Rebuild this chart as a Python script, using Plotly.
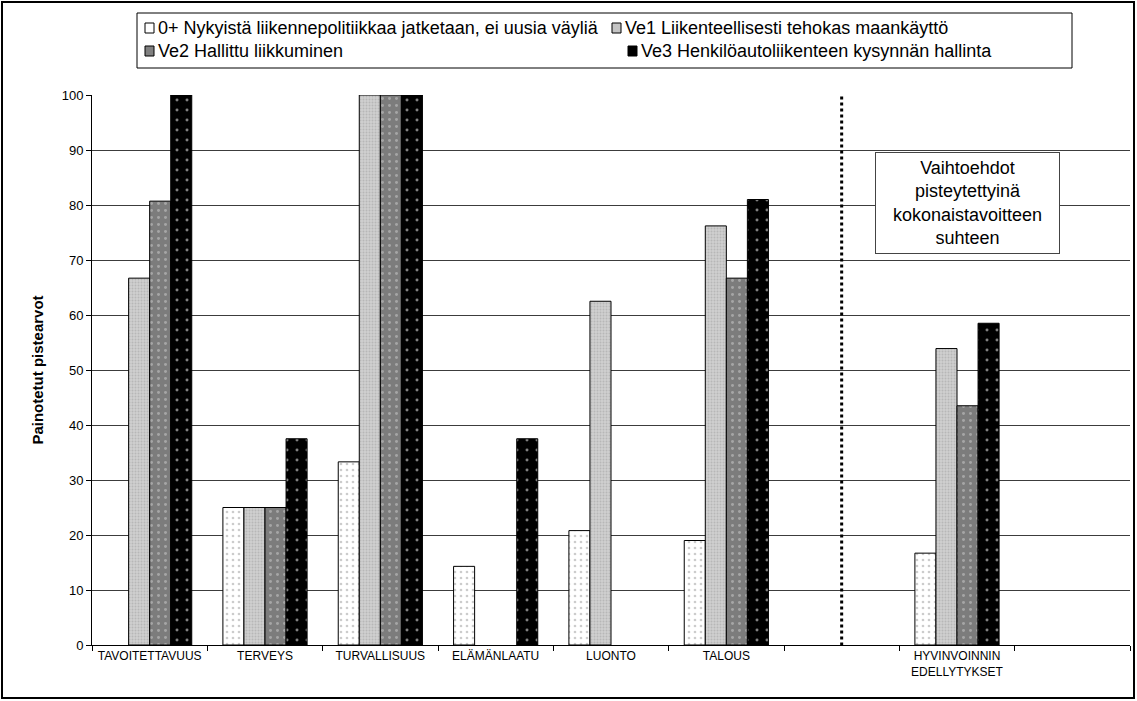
import plotly.graph_objects as go

# Categories (two blank slots: a spacer before the summary group and one after it)
categories = ["TAVOITETTAVUUS", "TERVEYS", "TURVALLISUUS", "ELÄMÄNLAATU",
              "LUONTO", "TALOUS", " ", "HYVINVOINNIN<br>EDELLYTYKSET", "  "]
separator_category = " "

series_names = [
    "0+ Nykyistä liikennepolitiikkaa jatketaan, ei uusia väyliä",
    "Ve1 Liikenteellisesti tehokas maankäyttö",
    "Ve2 Hallittu liikkuminen",
    "Ve3 Henkilöautoliikenteen kysynnän hallinta",
]

values_0 = [None, 25.0, 33.3, 14.3, 20.8, 19.0, None, 16.7, None]
values_ve1 = [66.7, 25.0, 100.0, None, 62.5, 76.2, None, 53.9, None]
values_ve2 = [80.7, 25.0, 100.0, None, None, 66.7, None, 43.5, None]
values_ve3 = [100.0, 37.5, 100.0, 37.5, None, 81.0, None, 58.5, None]

y_ticks = [0, 10, 20, 30, 40, 50, 60, 70, 80, 90, 100]
y_title = "Painotetut pistearvot"
note_text = "Vaihtoehdot<br>pisteytettyinä<br>kokonaistavoitteen<br>suhteen"

FONT = "Arial, Liberation Sans, sans-serif"
W, H = 1137, 701
ML, MR, MT, MB = 92, 7, 95, 56
PW, PH = W - ML - MR, H - MT - MB


def px(x):
    return (x - ML) / PW


def py(y):
    return (H - MB - y) / PH


# fill styles: (swatch colour, pattern)
styles = [
    ("#ffffff", dict(shape=".", bgcolor="#ffffff", fgcolor="#9a9a9a", size=6, solidity=0.16)),
    ("#c4c4c4", dict(shape=".", bgcolor="#cfcfcf", fgcolor="#a0a0a0", size=3, solidity=0.35)),
    ("#808080", dict(shape=".", bgcolor="#7c7c7c", fgcolor="#cfcfcf", size=7, solidity=0.14)),
    ("#000000", dict(shape=".", bgcolor="#000000", fgcolor="#ffffff", size=10, solidity=0.07)),
]

fig = go.Figure()
for name, vals, (col, pat) in zip(series_names,
                                  [values_0, values_ve1, values_ve2, values_ve3],
                                  styles):
    fig.add_trace(go.Bar(
        x=categories, y=vals, name=name, showlegend=False,
        marker=dict(color=col, pattern=pat, line=dict(color="#000000", width=1)),
    ))

fig.update_layout(
    width=W, height=H,
    margin=dict(l=ML, r=MR, t=MT, b=MB),
    paper_bgcolor="white", plot_bgcolor="white",
    barmode="group", bargap=0.27, bargroupgap=0,
    font=dict(family=FONT, color="#000000"),
    showlegend=False,
)

fig.update_xaxes(
    type="category", categoryorder="array", categoryarray=categories,
    range=[-0.5, len(categories) - 0.5],
    showline=True, linecolor="#000000", linewidth=1,
    ticks="outside", tickson="boundaries", ticklen=5, tickcolor="#000000",
    tickfont=dict(size=12, family=FONT), showgrid=False,
)
fig.update_yaxes(
    range=[0, 100], tickvals=y_ticks, showgrid=True, gridcolor="#3c3c3c", gridwidth=1,
    showline=True, linecolor="#000000", linewidth=1,
    ticks="outside", ticklen=5, tickcolor="#000000",
    tickfont=dict(size=13, family=FONT), zeroline=False,
    title=dict(text=f"<b>{y_title}</b>", font=dict(size=15, family=FONT), standoff=14),
)

shapes = []
# dotted separator between the themes and the summary column
sep_x = categories.index(separator_category)
shapes.append(dict(type="line", xref="x", yref="y", x0=sep_x, x1=sep_x,
                   y0=-1.2, y1=100, line=dict(color="#000000", width=3, dash="dot")))
# outer chart frame
shapes.append(dict(type="rect", xref="paper", yref="paper",
                   x0=px(2), x1=px(1134), y0=py(698), y1=py(2),
                   line=dict(color="#000000", width=2), layer="above"))

annotations = [dict(
    xref="paper", yref="paper", x=px(967), y=py(203), xanchor="center", yanchor="middle",
    text=note_text, showarrow=False, align="center",
    font=dict(size=18, family=FONT, color="#000000"),
    bgcolor="white", bordercolor="#444444", borderwidth=1, borderpad=3,
    width=177, height=94,
)]

# legend box with swatches and labels
leg_left, leg_right, leg_top, leg_bottom = 137, 1072, 13, 68
shapes.append(dict(type="rect", xref="paper", yref="paper",
                   x0=px(leg_left), x1=px(leg_right), y0=py(leg_bottom), y1=py(leg_top),
                   line=dict(color="#000000", width=1), fillcolor="white"))
legend_slots = [(145, 28), (612, 28), (145, 51), (628, 51)]
for (sx, sy), name, (col, _) in zip(legend_slots, series_names, styles):
    shapes.append(dict(type="rect", xref="paper", yref="paper",
                       x0=px(sx), x1=px(sx + 9), y0=py(sy + 5), y1=py(sy - 5),
                       line=dict(color="#000000", width=1), fillcolor=col))
    annotations.append(dict(
        xref="paper", yref="paper", x=px(sx + 11), y=py(sy), xanchor="left", yanchor="middle",
        text=name, showarrow=False, font=dict(size=18, family=FONT, color="#000000"),
    ))

fig.update_layout(shapes=shapes, annotations=annotations)
fig.write_html("out.html")
